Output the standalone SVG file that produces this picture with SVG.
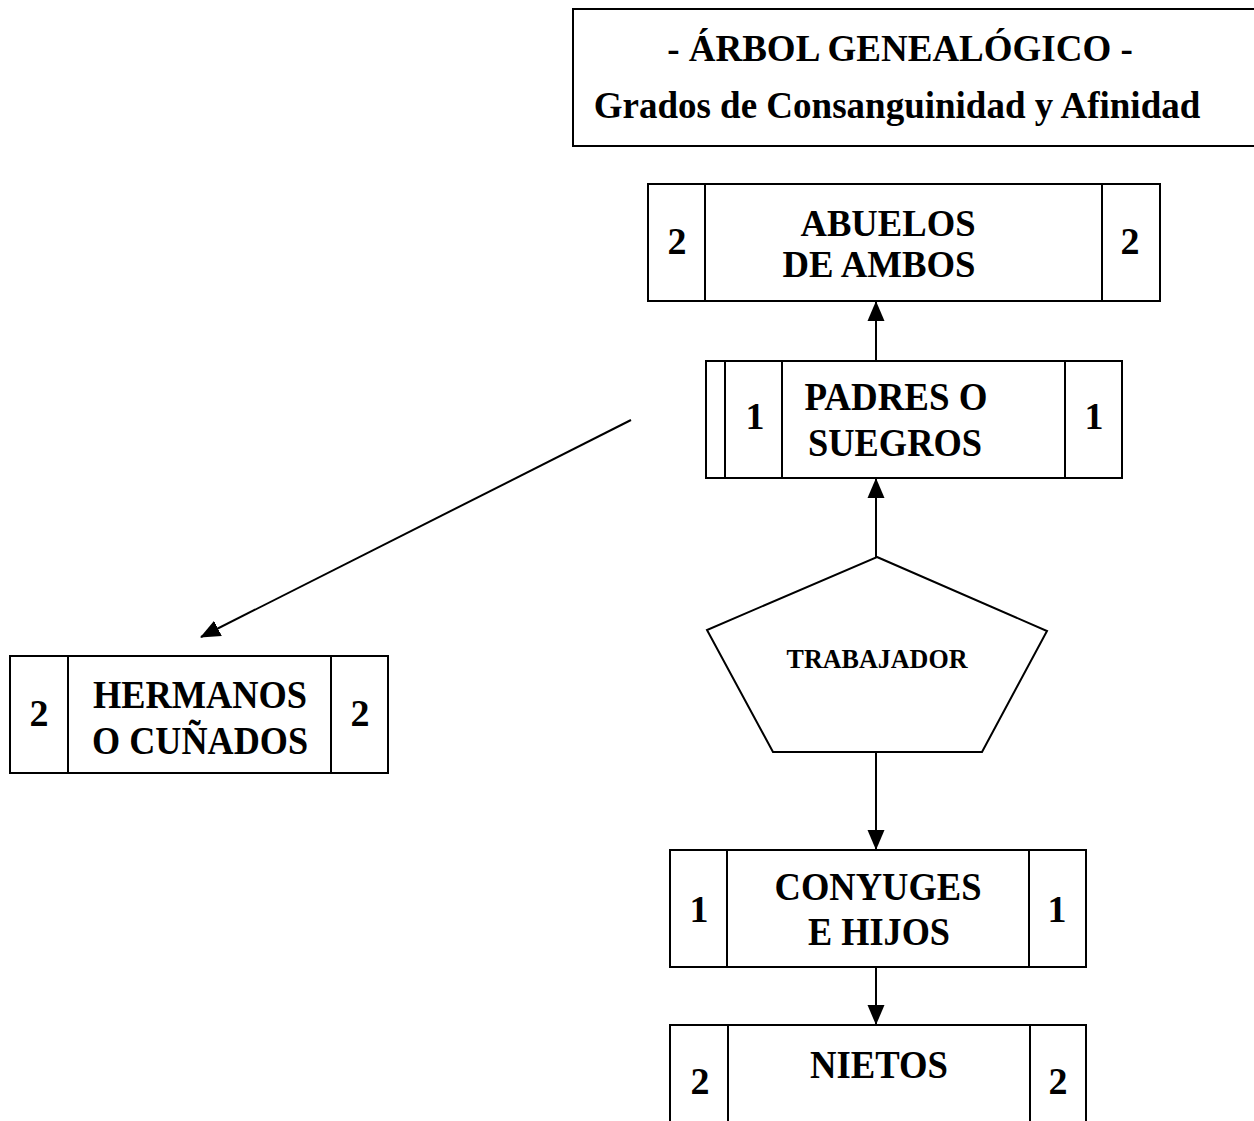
<svg xmlns="http://www.w3.org/2000/svg" width="1254" height="1121" viewBox="0 0 1254 1121">
  <style>
    .box { fill: #ffffff; stroke: #000000; stroke-width: 2; }
    .div { stroke: #000000; stroke-width: 2; fill: none; }
    .edge { stroke: #000000; stroke-width: 2; fill: none; }
    .t { font-family: "Liberation Serif", "Times New Roman", serif; font-weight: bold; fill: #000000; text-anchor: middle; }
    .lbl { font-size: 41px; }
    .lbl2 { font-size: 37px; }
    .num { font-size: 38px; }
    .title { font-size: 37px; }
    .small { font-size: 27px; }
  </style>
  <defs>
    <marker id="arrow" viewBox="0 0 20 20" refX="19" refY="10" markerWidth="20" markerHeight="20" markerUnits="userSpaceOnUse" orient="auto">
      <path d="M0,1.5 L20,10 L0,18.5 Z" fill="#000000"/>
    </marker>
  </defs>
  <rect width="1254" height="1121" fill="#ffffff"/>

  <g id="title">
    <path class="box" d="M1254,9 H573 V146 H1254"/>
    <text class="t title" x="900" y="61">- ÁRBOL GENEALÓGICO -</text>
    <text class="t title" x="897" y="118">Grados de Consanguinidad y Afinidad</text>
  </g>

  <g id="connectors">
    <line class="edge" x1="876" y1="361" x2="876" y2="302" marker-end="url(#arrow)"/>
    <line class="edge" x1="876" y1="557" x2="876" y2="479" marker-end="url(#arrow)"/>
    <line class="edge" x1="631" y1="420" x2="201" y2="637" marker-end="url(#arrow)"/>
    <line class="edge" x1="876" y1="752" x2="876" y2="849" marker-end="url(#arrow)"/>
    <line class="edge" x1="876" y1="967" x2="876" y2="1024" marker-end="url(#arrow)"/>
  </g>

  <g id="abuelos">
    <rect class="box" x="648" y="184" width="512" height="117"/>
    <line class="div" x1="705" y1="184" x2="705" y2="301"/>
    <line class="div" x1="1102" y1="184" x2="1102" y2="301"/>
    <text class="t num" x="677" y="254">2</text>
    <text class="t num" x="1130" y="254">2</text>
    <text class="t lbl2" x="888" y="236" textLength="175" lengthAdjust="spacingAndGlyphs">ABUELOS</text>
    <text class="t lbl2" x="879" y="277" textLength="193" lengthAdjust="spacingAndGlyphs">DE AMBOS</text>
  </g>

  <g id="padres">
    <rect class="box" x="706" y="361" width="416" height="117"/>
    <line class="div" x1="725" y1="361" x2="725" y2="478"/>
    <line class="div" x1="782" y1="361" x2="782" y2="478"/>
    <line class="div" x1="1065" y1="361" x2="1065" y2="478"/>
    <text class="t num" x="755" y="429">1</text>
    <text class="t num" x="1094" y="429">1</text>
    <text class="t lbl" x="896" y="410" textLength="183" lengthAdjust="spacingAndGlyphs">PADRES O</text>
    <text class="t lbl" x="895" y="456" textLength="174" lengthAdjust="spacingAndGlyphs">SUEGROS</text>
  </g>

  <g id="hermanos">
    <rect class="box" x="10" y="656" width="378" height="117"/>
    <line class="div" x1="68" y1="656" x2="68" y2="773"/>
    <line class="div" x1="331" y1="656" x2="331" y2="773"/>
    <text class="t num" x="39" y="726">2</text>
    <text class="t num" x="360" y="726">2</text>
    <text class="t lbl" x="200" y="708" textLength="214" lengthAdjust="spacingAndGlyphs">HERMANOS</text>
    <text class="t lbl" x="200" y="754" textLength="216" lengthAdjust="spacingAndGlyphs">O CUÑADOS</text>
  </g>

  <g id="trabajador">
    <polygon class="box" points="877,557 1047,631 982,752 773,752 707,630"/>
    <text class="t small" x="877" y="668" textLength="181" lengthAdjust="spacingAndGlyphs">TRABAJADOR</text>
  </g>

  <g id="conyuges">
    <rect class="box" x="670" y="850" width="416" height="117"/>
    <line class="div" x1="727" y1="850" x2="727" y2="967"/>
    <line class="div" x1="1029" y1="850" x2="1029" y2="967"/>
    <text class="t num" x="699" y="922">1</text>
    <text class="t num" x="1057" y="922">1</text>
    <text class="t lbl" x="878" y="900" textLength="207" lengthAdjust="spacingAndGlyphs">CONYUGES</text>
    <text class="t lbl" x="879" y="945" textLength="142" lengthAdjust="spacingAndGlyphs">E HIJOS</text>
  </g>

  <g id="nietos">
    <rect class="box" x="670" y="1025" width="416" height="120"/>
    <line class="div" x1="728" y1="1025" x2="728" y2="1121"/>
    <line class="div" x1="1030" y1="1025" x2="1030" y2="1121"/>
    <text class="t num" x="700" y="1094">2</text>
    <text class="t num" x="1058" y="1094">2</text>
    <text class="t lbl" x="879" y="1078" textLength="138" lengthAdjust="spacingAndGlyphs">NIETOS</text>
  </g>
</svg>
